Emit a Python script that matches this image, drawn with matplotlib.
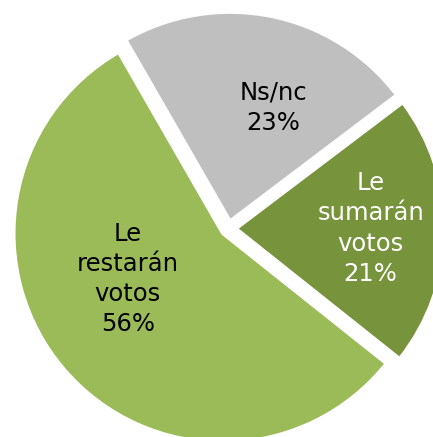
import matplotlib
matplotlib.use("Agg")
import matplotlib.pyplot as plt
import numpy as np

labels = ["Le\nsumarán\nvotos", "Ns/nc", "Le\nrestarán\nvotos"]
values = [21, 23, 56]
colors = ["#77933C", "#BFBFBF", "#9BBB59"]
text_colors = ["white", "black", "black"]

W, H = 433, 437
fig = plt.figure(figsize=(W / 100, H / 100), dpi=100)
ax = fig.add_axes([0, 0, 1, 1])
ax.axis("off")

R = 209.0
cx, cy = 228.5, 228.5

wedges, _ = ax.pie(values, colors=colors, startangle=-38.5, counterclock=True,
                   explode=[0.036, 0.036, 0.036], radius=1.0,
                   wedgeprops=dict(edgecolor="white", linewidth=2.5))
ax.set_xlim(-cx / R, (W - cx) / R)
ax.set_ylim(-(H - cy) / R, cy / R)
ax.set_aspect("auto")

# label placement (layout): angle offset in degrees and radial distance
label_pos = [(0.7, 0.68), (-8.8, 0.615), (-14.0, 0.54)]
for (dang, dist), w, lab, v, tc in zip(label_pos, wedges, labels, values, text_colors):
    ang = np.deg2rad((w.theta1 + w.theta2) / 2 + dang)
    ax.text(dist * np.cos(ang), dist * np.sin(ang), f"{lab}\n{v}%",
            ha="center", va="center", fontsize=17.5, color=tc,
            family="DejaVu Sans", linespacing=1.32)

fig.savefig("out.png", dpi=100)
